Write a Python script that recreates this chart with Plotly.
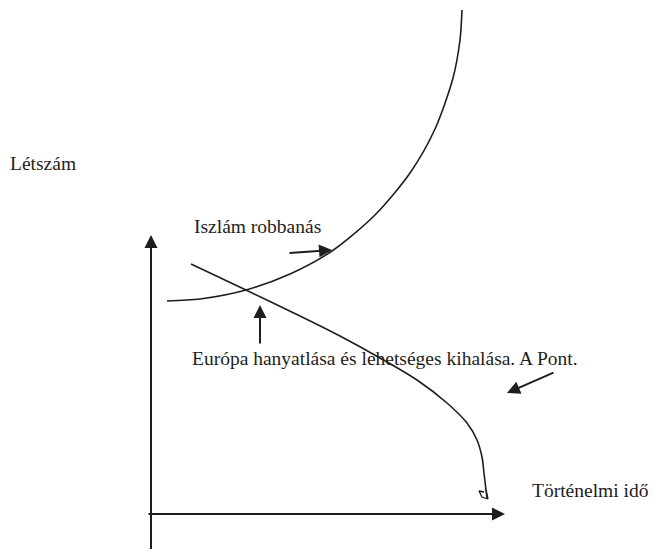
import plotly.graph_objects as go

# diagram coordinates (y grows downward)
islam_x = [167, 200, 246, 290, 332, 375, 410, 435, 453, 460, 462]
islam_y = [301, 299, 290, 274, 251, 215, 173, 129, 78, 40, 10]

europe_x = [191, 246, 300, 340, 380, 417, 447, 467, 477, 482, 484, 486, 487]
europe_y = [264, 290, 316, 336, 358, 380, 403, 423, 440, 457, 473, 490, 498]

hook_x = [486, 488, 482, 479, 484]
hook_y = [490, 499, 497, 491, 492]

labels = ["Létszám", "Iszlám robbanás",
          "Európa hanyatlása és lehetséges kihalása. A Pont.", "Történelmi idő"]
label_x = [8, 192, 190, 650]
label_y = [163, 226, 358, 490]
label_anchor = ["left", "left", "left", "right"]

# arrows: (tail_x, tail_y, head_x, head_y)
arrows = [
    (151, 560, 151, 235),   # vertical axis
    (147, 514, 505, 514),   # horizontal axis
    (288, 253, 332, 250),   # to islam curve
    (260, 345, 260, 305),   # to crossing point
    (555, 372, 507, 393),   # to the falling curve
]

ink = "#1e1e1e"
font = dict(family="Liberation Serif, Times New Roman, serif", size=19.5, color=ink)

fig = go.Figure()

fig.add_trace(go.Scatter(
    x=islam_x, y=islam_y, mode="lines",
    line=dict(color=ink, width=1.6, shape="spline", smoothing=0.8),
    hoverinfo="skip",
))
fig.add_trace(go.Scatter(
    x=europe_x, y=europe_y, mode="lines",
    line=dict(color=ink, width=1.6, shape="spline", smoothing=0.8),
    hoverinfo="skip",
))
fig.add_trace(go.Scatter(
    x=hook_x, y=hook_y, mode="lines",
    line=dict(color=ink, width=1.3),
    hoverinfo="skip",
))

for tx, ty, hx, hy in arrows:
    fig.add_annotation(
        x=hx, y=hy, ax=tx, ay=ty, xref="x", yref="y", axref="x", ayref="y",
        text="", showarrow=True, arrowhead=2, arrowsize=1.3, arrowwidth=2,
        arrowcolor=ink,
    )

for txt, lx, ly, anc in zip(labels, label_x, label_y, label_anchor):
    fig.add_annotation(
        x=lx, y=ly, xref="x", yref="y", text=txt, showarrow=False,
        xanchor=anc, yanchor="middle", font=font,
    )

# the page body adds an 8px margin; shrink the figure so page + margins fit
# the window and start the ranges at 8 so diagram units equal window pixels
fig.update_layout(
    width=643, height=541,
    margin=dict(l=0, r=0, t=0, b=0),
    paper_bgcolor="white", plot_bgcolor="white",
    showlegend=False,
    xaxis=dict(range=[8, 651], visible=False, fixedrange=True),
    yaxis=dict(range=[549, 8], visible=False, fixedrange=True),
)

fig.write_html("out.html")
